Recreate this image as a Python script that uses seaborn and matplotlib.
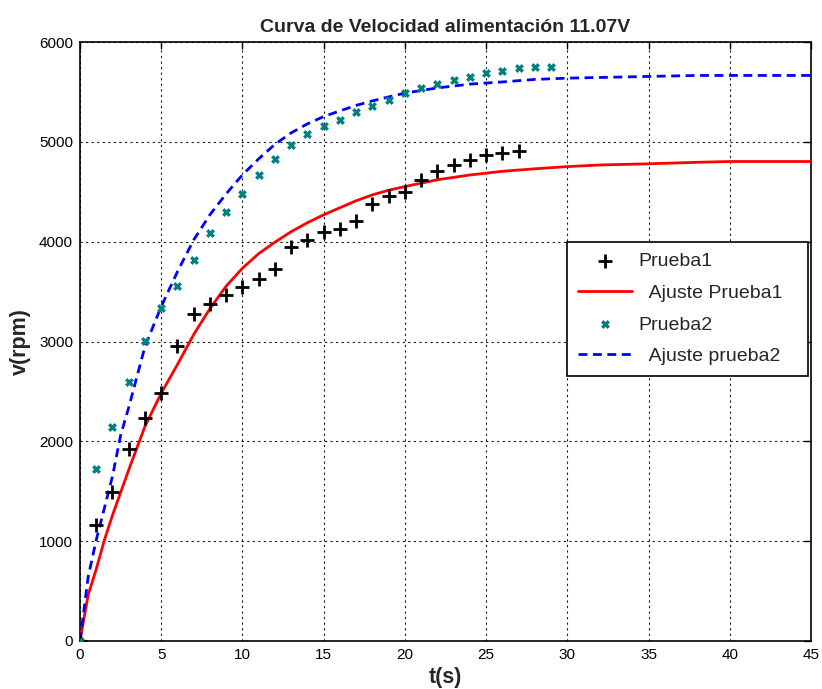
import matplotlib
matplotlib.use("Agg")
import matplotlib.pyplot as plt
import seaborn as sns
import pandas as pd

# ---- data ----
t_p1 = [0, 1, 2, 3, 4, 5, 6, 7, 8, 9, 10, 11, 12, 13, 14, 15, 16, 17, 18, 19,
        20, 21, 22, 23, 24, 25, 26, 27]
v_p1 = [0, 1165, 1490, 1921, 2231, 2482, 2956, 3273, 3380, 3467, 3544, 3630,
        3730, 3945, 4018, 4095, 4130, 4208, 4375, 4459, 4496, 4619, 4709, 4770,
        4820, 4870, 4893, 4910]

t_p2 = [0, 1, 2, 3, 4, 5, 6, 7, 8, 9, 10, 11, 12, 13, 14, 15, 16, 17, 18, 19,
        20, 21, 22, 23, 24, 25, 26, 27, 28, 29]
v_p2 = [0, 1720, 2141, 2595, 3010, 3333, 3554, 3818, 4085, 4296, 4482, 4672,
        4833, 4970, 5083, 5157, 5220, 5297, 5357, 5421, 5487, 5544, 5584, 5621,
        5648, 5685, 5711, 5735, 5749, 5749]

t_fit1 = [0, 0.5, 1, 1.5, 2, 3, 4, 5, 6, 7, 8, 9, 10, 11, 12, 13, 14, 15, 16,
          17, 18, 19, 20, 22, 24, 26, 28, 30, 32, 35, 38, 40, 42, 45]
v_fit1 = [0, 460, 720, 1010, 1260, 1715, 2150, 2482, 2770, 3070, 3330, 3555,
          3734, 3880, 3995, 4100, 4190, 4269, 4340, 4410, 4469, 4515, 4552,
          4620, 4668, 4705, 4730, 4752, 4768, 4780, 4795, 4803, 4803, 4803]

t_fit2 = [0, 0.5, 1, 1.5, 2, 2.5, 3, 4, 5, 6, 7, 8, 9, 10, 11, 12, 13, 14, 15,
          16, 17, 18, 19, 20, 22, 24, 26, 28, 30, 33, 35, 38, 45]
v_fit2 = [0, 640, 1012, 1330, 1650, 2060, 2340, 2950, 3350, 3700, 4018, 4270,
          4480, 4669, 4830, 4975, 5090, 5180, 5253, 5310, 5365, 5410, 5450,
          5488, 5540, 5578, 5600, 5625, 5638, 5648, 5655, 5665, 5665]

labels = ["Prueba1", "  Ajuste Prueba1", "Prueba2", "  Ajuste prueba2"]
x_ticks = [0, 5, 10, 15, 20, 25, 30, 35, 40, 45]
y_ticks = [0, 1000, 2000, 3000, 4000, 5000, 6000]

sns.set_style("white")
plt.rcParams["font.family"] = ["Liberation Sans", "DejaVu Sans"]

fig = plt.figure(figsize=(8.22, 6.89), dpi=100, facecolor="white")
ax = fig.add_axes([80 / 822, 1 - 641 / 689, 731 / 822, 599 / 689])

df1 = pd.DataFrame({"t": t_p1, "v": v_p1})
df2 = pd.DataFrame({"t": t_p2, "v": v_p2})
f1 = pd.DataFrame({"t": t_fit1, "v": v_fit1})
f2 = pd.DataFrame({"t": t_fit2, "v": v_fit2})

sns.scatterplot(data=df1, x="t", y="v", ax=ax, marker="+", color="black",
                s=115, linewidth=2.0, label=labels[0], zorder=4)
sns.lineplot(data=f1, x="t", y="v", ax=ax, color="red", linewidth=2.0,
             estimator=None, sort=False, label=labels[1], zorder=3)
sns.scatterplot(data=df2, x="t", y="v", ax=ax, marker="x", color="#008080",
                s=22, linewidth=2.4, label=labels[2], zorder=4)
sns.lineplot(data=f2, x="t", y="v", ax=ax, color="blue", linewidth=2.0,
             linestyle=(0, (3.2, 2.0)), estimator=None, sort=False,
             label=labels[3], zorder=3)

ax.set_xlim(0, 45)
ax.set_ylim(0, 6000)
ax.set_xticks(x_ticks)
ax.set_yticks(y_ticks)
ax.tick_params(direction="in", length=5, width=1, labelsize=11,
               top=True, right=True, pad=5, colors="black")
for s in ax.spines.values():
    s.set_color("black")
    s.set_linewidth(1.2)
ax.grid(True, color="black", linestyle=(0, (2, 3)), linewidth=0.8, alpha=0.9)
ax.set_axisbelow(True)

ax.set_title("Curva de Velocidad alimentación 11.07V", fontsize=14,
             fontweight="bold", pad=7)
ax.set_xlabel("t(s)", fontsize=15.5, fontweight="bold", labelpad=4)
ax.set_ylabel("v(rpm)", fontsize=15.5, fontweight="bold", labelpad=6)

handles, lbls = ax.get_legend_handles_labels()
leg = ax.legend(handles, lbls, loc="upper left",
                bbox_to_anchor=(0.666, 0.1, 0.3297, 0.566), mode="expand",
                fontsize=14, frameon=True,
                fancybox=False, edgecolor="black", framealpha=1,
                handlelength=2.8, handletextpad=0.35, labelspacing=0.72,
                borderpad=0.55, borderaxespad=0)
leg.get_frame().set_linewidth(1.2)

fig.savefig("out.png", dpi=100, facecolor="white")
